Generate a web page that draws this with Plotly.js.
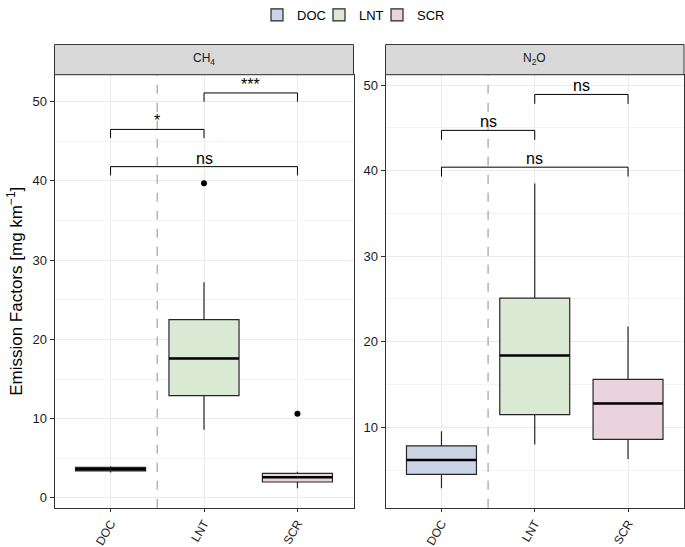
<!DOCTYPE html>
<html>
<head>
<meta charset="utf-8">
<script src="https://cdn.plot.ly/plotly-3.0.1.min.js"></script>
<style>
  html, body { margin: 0; padding: 0; background: #fff; }
  #chart { width: 685px; height: 547px; }
</style>
</head>
<body>
<div id="chart"></div>
<script>
// boxplot stats (mg/km)
const categories = ['DOC', 'LNT', 'SCR'];
const fillColors = ['#cbd4e6', '#dae9d4', '#ead3dc'];

const ch4Lower  = [3.2, 8.6, 1.2];
const ch4Q1     = [3.4, 12.9, 2.0];
const ch4Median = [3.6, 17.6, 2.6];
const ch4Q3     = [3.85, 22.5, 3.1];
const ch4Upper  = [4.0, 27.2, 3.3];
const ch4OutX   = ['LNT', 'SCR'];
const ch4OutY   = [39.7, 10.6];

const n2oLower  = [2.9, 8.0, 6.3];
const n2oQ1     = [4.5, 11.5, 8.6];
const n2oMedian = [6.2, 18.4, 12.8];
const n2oQ3     = [7.85, 25.1, 15.6];
const n2oUpper  = [9.55, 38.5, 21.8];

// significance brackets: from / to category index, height, label
const ch4SigFrom  = [1, 0, 0];
const ch4SigTo    = [2, 1, 2];
const ch4SigY     = [51.1, 46.5, 41.8];
const ch4SigLabel = ['***', '*', 'ns'];

const n2oSigFrom  = [1, 0, 0];
const n2oSigTo    = [2, 1, 2];
const n2oSigY     = [48.9, 44.7, 40.4];
const n2oSigLabel = ['ns', 'ns', 'ns'];

const W = 685, H = 547;
const px = v => v / W;
const py = v => 1 - v / H;

const data = [];
const shapes = [];
const annotations = [];
const legendIds = ['legend', 'legend2', 'legend3'];

function addPanel(xa, ya, lower, q1, med, q3, upper, legend) {
  categories.forEach((c, i) => {
    data.push({
      type: 'box',
      name: c,
      legend: legendIds[i],
      legendgroup: c,
      showlegend: legend,
      x: [c],
      q1: [q1[i]], median: [med[i]], q3: [q3[i]],
      lowerfence: [lower[i]], upperfence: [upper[i]],
      width: 0.75,
      whiskerwidth: 0,
      fillcolor: fillColors[i],
      line: { color: '#262626', width: 1.2 },
      xaxis: xa, yaxis: ya,
      hoverinfo: 'skip'
    });
    // thicker median like ggplot
    shapes.push({
      type: 'line', xref: xa, yref: ya,
      x0: i - 0.375, x1: i + 0.375, y0: med[i], y1: med[i],
      line: { color: '#000', width: 2.5 }
    });
  });
  // dashed separator between DOC and LNT
  shapes.push({
    type: 'line', xref: xa, yref: ya + ' domain',
    x0: 0.5, x1: 0.5, y0: 0, y1: 1,
    line: { color: '#b3b3b3', width: 1.5, dash: 'dash' }
  });
}

function addBrackets(xa, ya, from, to, ys, labels, tip) {
  ys.forEach((y, i) => {
    const a = from[i], b = to[i];
    shapes.push({
      type: 'path', xref: xa, yref: ya,
      path: `M ${a},${y - tip} L ${a},${y} L ${b},${y} L ${b},${y - tip}`,
      line: { color: '#000', width: 1 }
    });
    annotations.push({
      xref: xa, yref: ya, x: (a + b) / 2, y: y,
      text: labels[i], showarrow: false,
      xanchor: 'center', yanchor: 'bottom', yshift: -2,
      font: { size: 16, color: '#000' }
    });
  });
}

addPanel('x', 'y', ch4Lower, ch4Q1, ch4Median, ch4Q3, ch4Upper, true);
addPanel('x2', 'y2', n2oLower, n2oQ1, n2oMedian, n2oQ3, n2oUpper, false);
addBrackets('x', 'y', ch4SigFrom, ch4SigTo, ch4SigY, ch4SigLabel, 1.1);
addBrackets('x2', 'y2', n2oSigFrom, n2oSigTo, n2oSigY, n2oSigLabel, 1.1);

data.push({
  type: 'scatter', mode: 'markers', x: ch4OutX, y: ch4OutY,
  marker: { color: '#000', size: 6 }, showlegend: false,
  xaxis: 'x', yaxis: 'y', hoverinfo: 'skip'
});

// facet strips
const strips = [
  { x0: 54.5, x1: 353.5, label: 'CH<sub>4</sub>' },
  { x0: 385.5, x1: 684, label: 'N<sub>2</sub>O' }
];
strips.forEach(s => {
  shapes.push({
    type: 'rect', xref: 'paper', yref: 'paper',
    x0: px(s.x0), x1: px(s.x1), y0: py(73), y1: py(42.7),
    fillcolor: '#d9d9d9', line: { color: '#333333', width: 1 }
  });
  annotations.push({
    xref: 'paper', yref: 'paper',
    x: px((s.x0 + s.x1) / 2), y: py(57),
    xanchor: 'center', yanchor: 'middle',
    text: s.label, showarrow: false,
    font: { size: 12, color: '#1a1a1a' }
  });
});

const yDomain = [py(507.7), py(73)];
const axisFont = { family: 'Liberation Sans, Arial, sans-serif', size: 13, color: '#1a1a1a' };

const xCommon = {
  type: 'category', categoryarray: categories, range: [-0.6, 2.6],
  tickangle: -60, tickfont: { family: axisFont.family, size: 12, color: '#1a1a1a' },
  showline: true, mirror: true, linecolor: '#333333', linewidth: 1,
  ticks: 'outside', ticklen: 3, tickcolor: '#333333',
  showgrid: true, gridcolor: '#ebebeb', zeroline: false, fixedrange: true
};
const yCommon = {
  tickfont: axisFont, dtick: 10, tick0: 0,
  showline: true, mirror: true, linecolor: '#333333', linewidth: 1,
  ticks: 'outside', ticklen: 4, tickcolor: '#333333',
  showgrid: true, gridcolor: '#ebebeb', zeroline: false,
  minor: { dtick: 5, showgrid: true, gridcolor: '#f3f3f3', ticks: '' },
  domain: yDomain, fixedrange: true
};

// one legend per item so the keys can sit close together as in the reference
const legendX = [257, 319, 377];
const legendBase = {
  orientation: 'h', yanchor: 'middle', xanchor: 'left',
  y: py(13), font: { size: 13, color: '#000' },
  itemwidth: 30, bgcolor: 'rgba(0,0,0,0)', borderwidth: 0
};

const layout = {
  width: W, height: H,
  margin: { l: 0, r: 0, t: 0, b: 0 },
  paper_bgcolor: '#fff', plot_bgcolor: '#fff',
  font: { family: 'Liberation Sans, Arial, sans-serif', color: '#000' },
  xaxis: Object.assign({}, xCommon, { domain: [px(54.5), px(353.5)], anchor: 'y' }),
  xaxis2: Object.assign({}, xCommon, { domain: [px(385.5), px(684)], anchor: 'y2' }),
  yaxis: Object.assign({}, yCommon, {
    range: [-1.26, 53.4], anchor: 'x',
    title: { text: 'Emission Factors [mg km<sup>−1</sup>]', font: { size: 17, color: '#000' }, standoff: 5 }
  }),
  yaxis2: Object.assign({}, yCommon, { range: [0.6, 51.2], anchor: 'x2' }),
  legend: Object.assign({}, legendBase, { x: px(legendX[0]) }),
  legend2: Object.assign({}, legendBase, { x: px(legendX[1]) }),
  legend3: Object.assign({}, legendBase, { x: px(legendX[2]) }),
  shapes: shapes,
  annotations: annotations
};

Plotly.newPlot('chart', data, layout, { displayModeBar: false, staticPlot: true });
</script>
</body>
</html>
